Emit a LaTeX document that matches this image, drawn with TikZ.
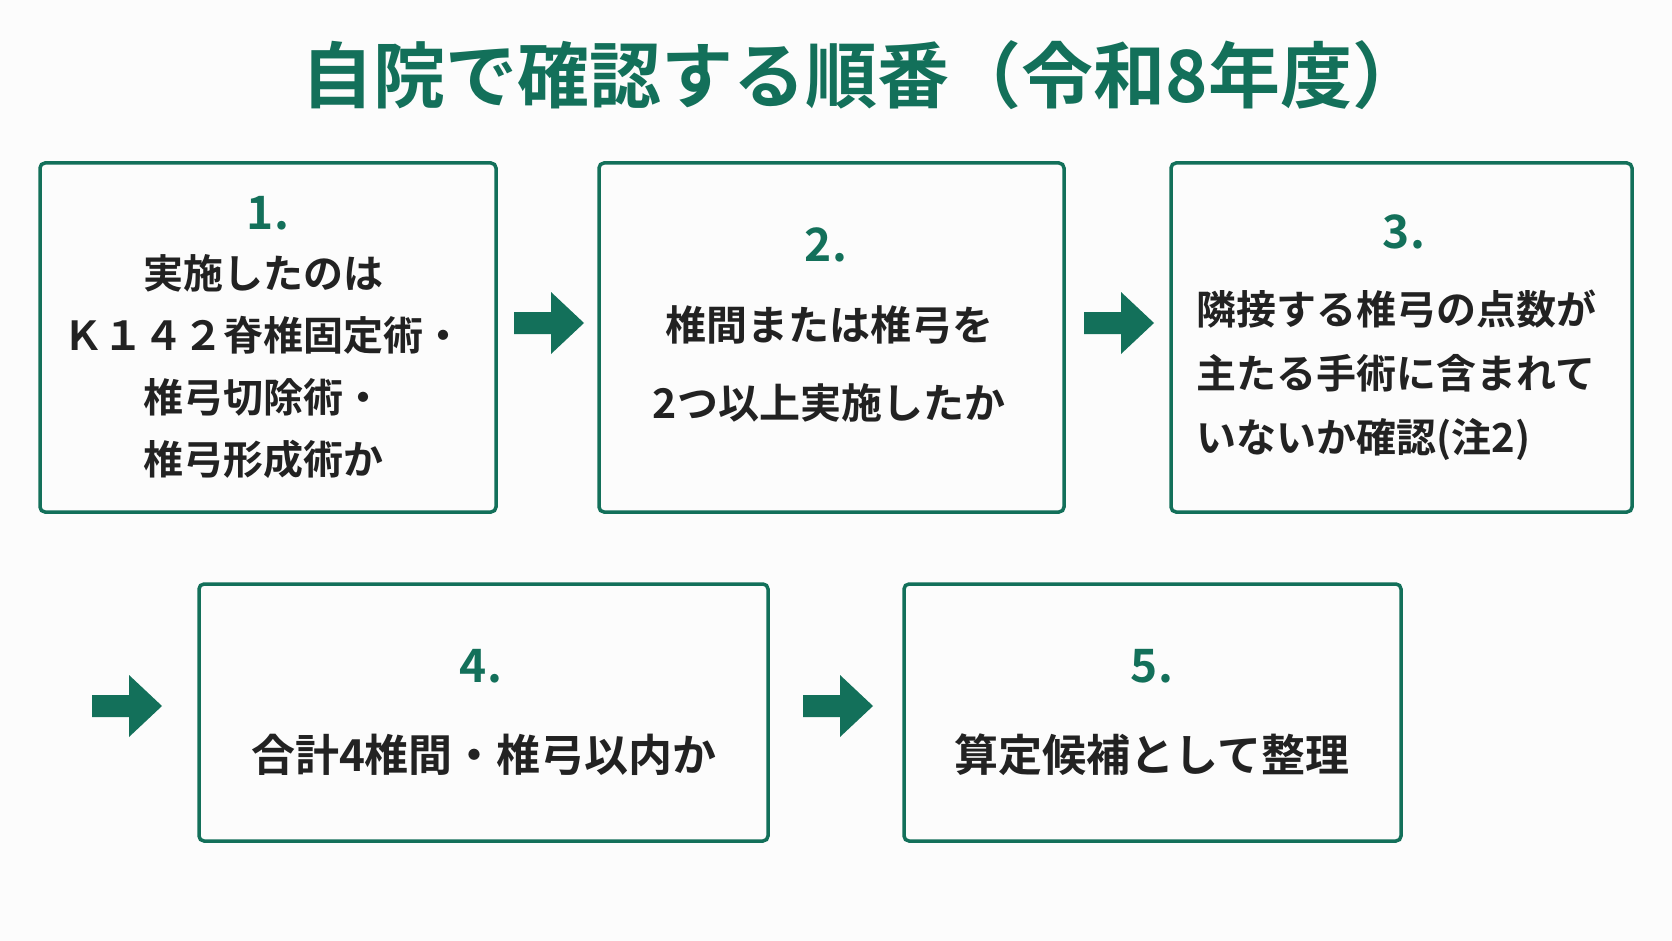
\documentclass[tikz,border=0pt]{standalone}
\usepackage{fontspec}
\setmainfont{Noto Sans CJK JP}[BoldFont={* Bold}]
\definecolor{gr}{HTML}{13705A}
\definecolor{tx}{HTML}{222222}
\begin{document}
\begin{tikzpicture}[x=1pt,y=-1pt,
 box/.style={draw=gr,line width=3.5pt,rounded corners=5pt},
 num/.style={text=gr,font=\fontsize{46}{48}\selectfont\bfseries},
 body/.style={text=tx,font=\fontsize{40}{62}\selectfont\bfseries,align=center},
 big/.style={text=tx,font=\fontsize{44}{48}\selectfont\bfseries},
 arr/.pic={\fill[gr] (-35,-11) -- (2,-11) -- (2,-31) -- (35,0) -- (2,31) -- (2,11) -- (-35,11) -- cycle;}]
\fill[white!98!gray] (0,0) rectangle (1672,941);
\node[text=gr,font=\fontsize{72}{76}\selectfont\bfseries] (title) at (863,75) {自院で確認する順番（令和8年度）};
\draw[box] (40,163) rectangle (496,512);
\draw[box] (599,163) rectangle (1064,512);
\draw[box] (1171,163) rectangle (1632,512);
\draw[box] (199,584) rectangle (768,841);
\draw[box] (904,584) rectangle (1401,841);
\node[num] (n1) at (268,213) {1.};
\node[body] (t1) at (263,367) {実施したのは\\Ｋ１４２脊椎固定術・\\椎弓切除術・\\椎弓形成術か};
\node[num] (n2) at (826,245) {2.};
\node[body,font=\fontsize{41}{78}\selectfont\bfseries] (t2) at (829,364) {椎間または椎弓を\\2つ以上実施したか};
\node[num] (n3) at (1404,232) {3.};
\node[body,align=left,anchor=north west,font=\fontsize{40}{64}\selectfont\bfseries] (t3) at (1193,286) {隣接する椎弓の点数が\\主たる手術に含まれて\\いないか確認(注2)};
\node[num] (n4) at (481,666) {4.};
\node[big] (t4) at (484,755) {合計4椎間・椎弓以内か};
\node[num] (n5) at (1152,666) {5.};
\node[big] (t5) at (1152,755) {算定候補として整理};
\pic at (549,323) {arr};
\pic at (1119,323) {arr};
\pic at (127,706) {arr};
\pic at (838,706) {arr};
\end{tikzpicture}
\end{document}
